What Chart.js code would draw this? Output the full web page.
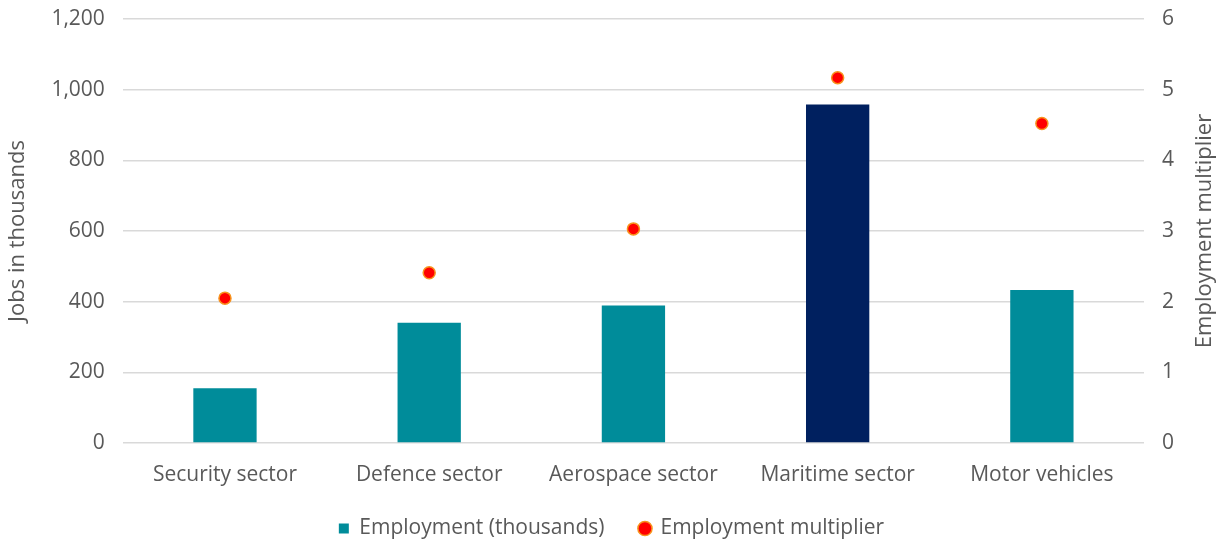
<!DOCTYPE html>
<html>
<head>
<meta charset="utf-8">
<script src="https://cdn.jsdelivr.net/npm/chart.js@4"></script>
<style>
  html, body { margin: 0; padding: 0; background: #fff; }
  #wrap { width: 1220px; height: 539px; }
</style>
</head>
<body>
<div id="wrap"><canvas id="chart"></canvas></div>
<script>
const sectors = ["Security sector", "Defence sector", "Aerospace sector", "Maritime sector", "Motor vehicles"];
const jobsThousands = [155, 340, 389, 958, 433];
const multiplier = [2.05, 2.41, 3.03, 5.17, 4.52];
const barColors = ["#008C9A", "#008C9A", "#008C9A", "#00205F", "#008C9A"];
const rightTitle = "Employment multiplier";

const TEXT = "#595959";
const GRID = "#D9D9D9";
const FONT = "'Open Sans', sans-serif";
const SIZE = 21;

Chart.defaults.font.family = FONT;
Chart.defaults.color = TEXT;

// right axis title reads bottom-to-top like the left one, so draw it by hand
const rightTitlePlugin = {
  id: "rightTitle",
  afterDraw(chart) {
    const { ctx, chartArea } = chart;
    ctx.save();
    ctx.translate(chart.width - 15, (chartArea.top + chartArea.bottom) / 2);
    ctx.rotate(-Math.PI / 2);
    ctx.font = `22px ${FONT}`;
    ctx.fillStyle = TEXT;
    ctx.textAlign = "center";
    ctx.textBaseline = "middle";
    ctx.fillText(rightTitle, 0, 0);
    ctx.restore();
  },
};

// keep the plot box where the original has it
function noVPad(scale) {
  scale.paddingTop = 0;
  scale.paddingBottom = 0;
}

new Chart(document.getElementById("chart"), {
  data: {
    labels: sectors,
    datasets: [
      {
        type: "line",
        label: "Employment multiplier",
        data: multiplier,
        yAxisID: "y2",
        showLine: false,
        pointStyle: "circle",
        pointRadius: 6,
        pointBorderWidth: 1.5,
        pointBackgroundColor: "#FF0000",
        pointBorderColor: "#F7931E",
        backgroundColor: "#FF0000",
        borderColor: "#F7931E",
        order: 1,
      },
      {
        type: "bar",
        label: "Employment (thousands)",
        data: jobsThousands,
        yAxisID: "y",
        backgroundColor: barColors,
        pointStyle: "rect",
        barPercentage: 0.62,
        categoryPercentage: 0.5,
        order: 2,
      },
    ],
  },
  plugins: [rightTitlePlugin],
  options: {
    responsive: true,
    maintainAspectRatio: false,
    animation: false,
    layout: { autoPadding: false, padding: { top: 19, left: 3, right: 0, bottom: -10 } },
    plugins: {
      tooltip: { enabled: false },
      legend: {
        position: "bottom",
        reverse: true,
        labels: {
          usePointStyle: true,
          boxWidth: 10,
          boxHeight: 10,
          padding: 4,
          font: { size: SIZE },
          color: TEXT,
          generateLabels(chart) {
            const items = Chart.defaults.plugins.legend.labels.generateLabels(chart);
            items.forEach((item) => { if (item.datasetIndex === 1) item.text += "\u2003\u2002"; });
            return items;
          },
        },
      },
    },
    scales: {
      x: {
        grid: { display: false },
        border: { display: false },
        ticks: { font: { size: SIZE }, color: TEXT, padding: 11, maxRotation: 0 },
        afterFit(scale) { scale.height = 71; },
      },
      y: {
        position: "left",
        min: 0,
        max: 1200,
        grid: { color: GRID, lineWidth: 1.5, drawTicks: false },
        border: { display: false },
        ticks: { stepSize: 200, font: { size: SIZE }, color: TEXT, padding: 18 },
        title: { display: true, text: "Jobs in thousands", font: { size: 22 }, color: TEXT, padding: 2 },
        afterFit: noVPad,
      },
      y2: {
        position: "right",
        min: 0,
        max: 6,
        grid: { display: false, drawTicks: false },
        border: { display: false },
        ticks: { stepSize: 1, font: { size: SIZE }, color: TEXT, padding: 18 },
        afterFit(scale) { noVPad(scale); scale.width += 28; },
      },
    },
  },
});
</script>
</body>
</html>
